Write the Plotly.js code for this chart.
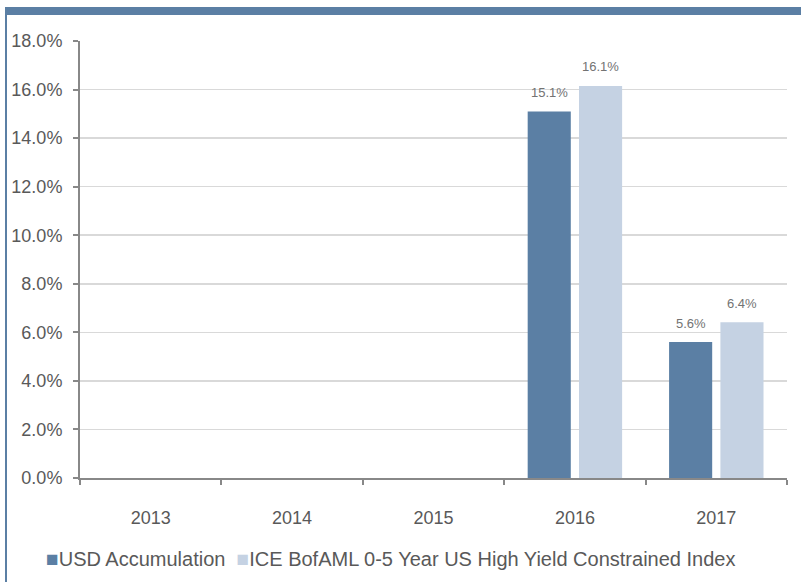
<!DOCTYPE html>
<html>
<head>
<meta charset="utf-8">
<script src="https://cdn.plot.ly/plotly-3.0.1.min.js"></script>
<style>
  html, body { margin: 0; padding: 0; background: #ffffff; }
  #wrap { position: relative; width: 801px; height: 582px; overflow: hidden; }
  #chart { position: absolute; left: 0; top: 0; width: 801px; height: 582px; }
  .frame-top { position: absolute; left: 5px; top: 7px; width: 796px; height: 8px; background: #5b7fa4; }
  .frame-left { position: absolute; left: 5px; top: 7px; width: 2px; height: 575px; background: #5b7fa4; }
</style>
</head>
<body>
<div id="wrap">
  <div id="chart"></div>
  <div class="frame-top"></div>
  <div class="frame-left"></div>
</div>
<script>
var years = ["2013", "2014", "2015", "2016", "2017"];
var seriesNames = ["USD Accumulation", "ICE BofAML 0-5 Year US High Yield Constrained Index"];
var fundValues = [null, null, null, 15.1, 5.6];
var indexValues = [null, null, null, 16.15, 6.42];
var fundLabels = ["", "", "", "15.1%", "5.6%"];
var indexLabels = ["", "", "", "16.1%", "6.4%"];
var yTickVals = [0, 2, 4, 6, 8, 10, 12, 14, 16, 18];
var yTickText = ["0.0%", "2.0%", "4.0%", "6.0%", "8.0%", "10.0%", "12.0%", "14.0%", "16.0%", "18.0%"];

var colors = ["#5b7fa4", "#c5d2e3"];
var bargap = 0.274, bargroupgap = 0.16;

var traces = [
  { type: "bar", name: seriesNames[0], x: years, y: fundValues, marker: { color: colors[0] }, hoverinfo: "skip", showlegend: false },
  { type: "bar", name: seriesNames[1], x: years, y: indexValues, marker: { color: colors[1] }, hoverinfo: "skip", showlegend: false }
];

var slot = (1 - bargap) / 2;
var annotations = [];
[[fundValues, fundLabels, -slot / 2], [indexValues, indexLabels, slot / 2]].forEach(function (s) {
  s[0].forEach(function (v, i) {
    if (v === null) return;
    annotations.push({
      xref: "x", yref: "y", x: i + s[2], y: v, text: s[1][i],
      showarrow: false, yanchor: "middle", yshift: 19,
      font: { family: "Liberation Sans, Arial, sans-serif", size: 13, color: "#737373" }
    });
  });
});

// legend drawn as one text line built from the trace names and colours
var legendText = seriesNames.map(function (n, k) {
  return "<span style='color:" + colors[k] + ";font-size:21px'>\u25A0</span>" + n;
}).join("\u00a0\u00a0");
annotations.push({
  xref: "paper", yref: "paper", x: 0.4385, y: -0.184, xanchor: "center", yanchor: "middle",
  text: legendText, showarrow: false,
  font: { family: "Liberation Sans, Arial, sans-serif", size: 20, color: "#595959" }
});

var layout = {
  width: 801, height: 582,
  margin: { l: 80, r: 14, t: 41, b: 104 },
  paper_bgcolor: "rgba(0,0,0,0)", plot_bgcolor: "#ffffff",
  font: { family: "Liberation Sans, Arial, sans-serif", color: "#595959" },
  barmode: "group", bargap: bargap, bargroupgap: bargroupgap,
  showlegend: false,
  xaxis: {
    type: "category", categoryorder: "array", categoryarray: years,
    tickson: "boundaries", ticks: "outside", ticklen: 5, tickcolor: "#888888", tickwidth: 2,
    showline: true, linecolor: "#888888", linewidth: 2,
    showgrid: false, zeroline: false,
    tickfont: { size: 18, color: "#595959" }, ticklabelstandoff: 22,
    range: [-0.5, 4.5], fixedrange: true
  },
  yaxis: {
    range: [0, 18], tickvals: yTickVals, ticktext: yTickText,
    ticks: "outside", ticklen: 5, tickcolor: "#888888", tickwidth: 2,
    showline: true, linecolor: "#888888", linewidth: 2,
    showgrid: true, gridcolor: "#d9d9d9", gridwidth: 1.5, zeroline: false,
    tickfont: { size: 18, color: "#595959" }, ticklabelstandoff: 7,
    fixedrange: true
  },
  annotations: annotations
};

Plotly.newPlot("chart", traces, layout, { displayModeBar: false, staticPlot: true });
</script>
</body>
</html>
